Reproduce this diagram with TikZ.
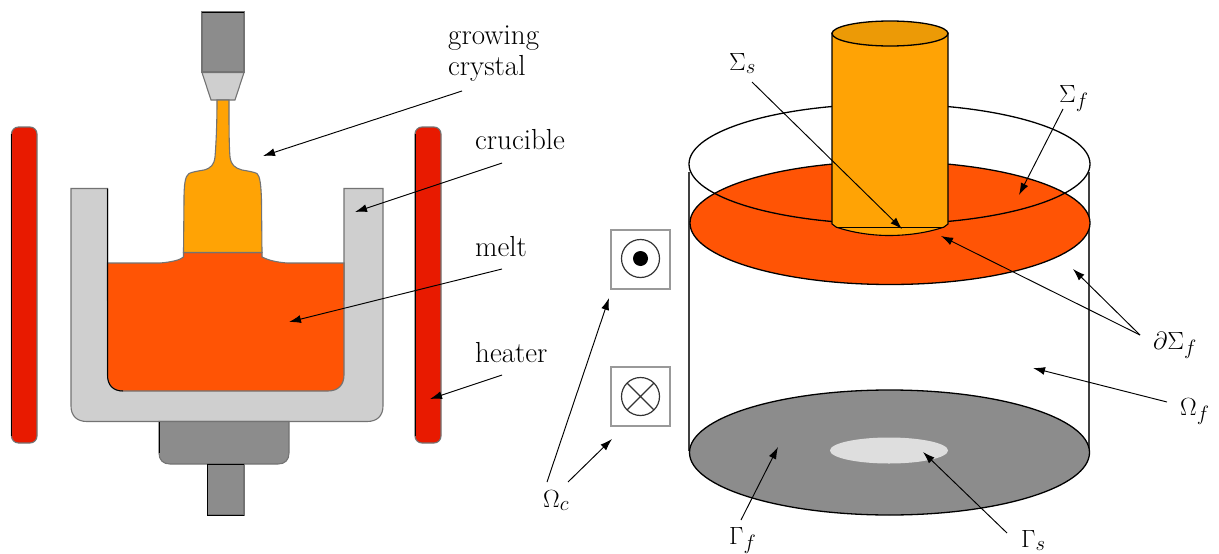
\documentclass[tikz,border=0pt]{standalone}
\usetikzlibrary{arrows.meta}
\definecolor{melt}{HTML}{FF5405}
\definecolor{crys}{HTML}{FFA305}
\definecolor{crystop}{HTML}{EC9A06}
\definecolor{heat}{HTML}{E81A00}
\definecolor{lgr}{HTML}{CFCFCF}
\definecolor{dgr}{HTML}{8C8C8C}
\definecolor{gama}{HTML}{DEDEDE}
\tikzset{
 x=1pt,y=-1pt,
 part/.style={draw=black!55,line width=1.1pt},
 edge/.style={draw=black,line width=1pt},
 lead/.style={draw=black,line width=.95pt,-{Latex[length=12pt,width=8pt]}},
 rim/.style={draw=black,line width=1.3pt},
 lab/.style={inner sep=0pt,anchor=base west,font=\fontsize{29}{35}\selectfont},
 mlab/.style={inner sep=0pt,anchor=base west,font=\fontsize{31}{37}\selectfont},
 boxy/.style={draw=black!40,line width=1.3pt},
}
\begin{document}
\begin{tikzpicture}
\useasboundingbox (0,0) rectangle (1219,554);
% heaters
\foreach \n/\xa/\xb in {hl/11.5/37,hr/415/441}{
 \draw[part,fill=heat,rounded corners=7pt] (\xa,127) rectangle (\xb,443);
 \draw[edge] (\xa,134) -- (\xa,436);
}
% crucible
\draw[part,fill=lgr] (71,188.5) -- (71,406) .. controls (71,416) and (77,421.5) .. (87,421.5) -- (367,421.5) .. controls (377,421.5) and (383,416) .. (383,406) -- (383,188.5) -- (344,188.5) -- (344,300) -- (107.5,300) -- (107.5,188.5) -- cycle;
% pedestal
\draw[part,fill=dgr] (159,421.5) -- (159,453) .. controls (159,460) and (163,464) .. (170,464) -- (278,464) .. controls (285,464) and (289,460) .. (289,453) -- (289,421.5) -- cycle;
\draw[edge] (159,421.5) -- (159,453);
\draw[part,fill=dgr] (207.5,464) rectangle (244,515);
\draw[edge] (244,515) -- (207.5,515) -- (207.5,464) -- (244,464);
% melt
\draw[part,fill=melt] (107.5,263) -- (160,263) .. controls (172,262) and (180,260) .. (183.5,257) -- (183.5,252.5) -- (262,252.5) -- (262,257) .. controls (268,260) and (275,262) .. (287,263) -- (344,263) -- (344,375) .. controls (344,385) and (338,391) .. (328,391) -- (123,391) .. controls (113,391) and (107.5,385) .. (107.5,375) -- cycle;
\draw[edge] (107.5,188.5) -- (107.5,375) .. controls (107.5,385) and (113,391) .. (123,391);
% holder
\draw[part,fill=dgr] (202,12) rectangle (244,72);
\draw[edge] (202,12) -- (244,12);
\draw[part,fill=lgr] (202,72.5) -- (244,72.5) -- (235,100) -- (211,100) -- cycle;
% crystal
\draw[part,fill=crys] (217,100) -- (229,100) .. controls (229,125) and (229,145) .. (230,157) .. controls (231,165) and (235,168) .. (242,170) .. controls (248,171) and (254,172) .. (257,173.5) .. controls (260,176) and (261,185) .. (261.5,200) -- (262,252.5) -- (183.5,252.5) -- (184,200) .. controls (184,185) and (185,176) .. (189,173.5) .. controls (192,172) and (198,171) .. (204,170) .. controls (211,168) and (214,165) .. (215,157) .. controls (216,145) and (217,125) .. (217,100) -- cycle;
% left labels
\node[lab] (t1) at (448,44) {growing};
\node[lab] (t2) at (448,75) {crystal};
\node[lab] (t3) at (475,149) {crucible};
\node[lab] (t4) at (475,256) {melt};
\node[lab] (t5) at (475,362) {heater};
\coordinate (a1) at (263,156); \coordinate (b1) at (462,91);
\coordinate (a2) at (355,212); \coordinate (b2) at (502,163);
\coordinate (a3) at (289,322); \coordinate (b3) at (502,269);
\coordinate (a4) at (430,399); \coordinate (b4) at (502,375);
\draw[lead] (b1) -- (a1);
\draw[lead] (b2) -- (a2);
\draw[lead] (b3) -- (a3);
\draw[lead] (b4) -- (a4);
% right figure
\draw[draw=black!75,line width=1.1pt] (689,172) -- (689,451);
\draw[draw=black!75,line width=1.1pt] (1089,172) -- (1089,451);
\draw[rim,fill=dgr] (889.5,452.5) ellipse [x radius=200,y radius=62.5];
\fill[gama] (889,450.5) ellipse [x radius=59,y radius=13];
\draw[rim,fill=melt] (890,223) ellipse [x radius=200,y radius=61.5];
\draw[rim] (889.5,164) ellipse [x radius=200.5,y radius=60];
% crystal cylinder
\draw[draw=black,line width=1.1pt,fill=crys] (832,33) -- (832,224) -- (836,227) .. controls (850,232) and (870,235.5) .. (889,235.5) .. controls (910,235.5) and (930,232) .. (944,227) -- (948,224) -- (948,33) -- cycle;
\draw[black,line width=1pt] (836,227) -- (944,227);
\draw[rim,fill=crystop] (890,33.5) ellipse [x radius=58,y radius=12.5];
% boxes
\draw[boxy] (611,230) rectangle (670,289);
\draw[boxy] (611,367) rectangle (670,426);
\draw[black!80,line width=1.2pt] (640.5,258.5) circle [radius=19];
\fill[black] (640.5,258.5) circle [radius=7.5];
\draw[black!80,line width=1.2pt] (640.5,396.5) circle [radius=19];
\draw[black!80,line width=1.1pt] (627,383) -- (654,410) (654,383) -- (627,410);
% right labels
\node[mlab] (ss) at (729,70) {$\Sigma_s$};
\node[mlab] (sf) at (1059,102) {$\Sigma_f$};
\node[mlab] (ds) at (1153,349) {$\partial\Sigma_f$};
\node[mlab] (of) at (1180,415) {$\Omega_f$};
\node[mlab] (oc) at (543,507) {$\Omega_c$};
\node[mlab] (gf) at (729,544) {$\Gamma_f$};
\node[mlab] (gs) at (1021,547) {$\Gamma_s$};
\coordinate (c1) at (902,229); \coordinate (d1) at (752,82);
\coordinate (c2) at (1019,195); \coordinate (d2) at (1063,109);
\coordinate (c3) at (941,236); \coordinate (d3) at (1140,335);
\coordinate (c4) at (1073,269); \coordinate (d4) at (1140,335);
\coordinate (c5) at (1033,368); \coordinate (d5) at (1167,402);
\coordinate (c6) at (609,298); \coordinate (d6) at (547,482);
\coordinate (c7) at (612,439); \coordinate (d7) at (568,482);
\coordinate (c8) at (778,447); \coordinate (d8) at (741,520);
\coordinate (c9) at (923,452); \coordinate (d9) at (1007,533);
\foreach \i in {1,...,9}{\draw[lead] (d\i) -- (c\i);}
\end{tikzpicture}
\end{document}
